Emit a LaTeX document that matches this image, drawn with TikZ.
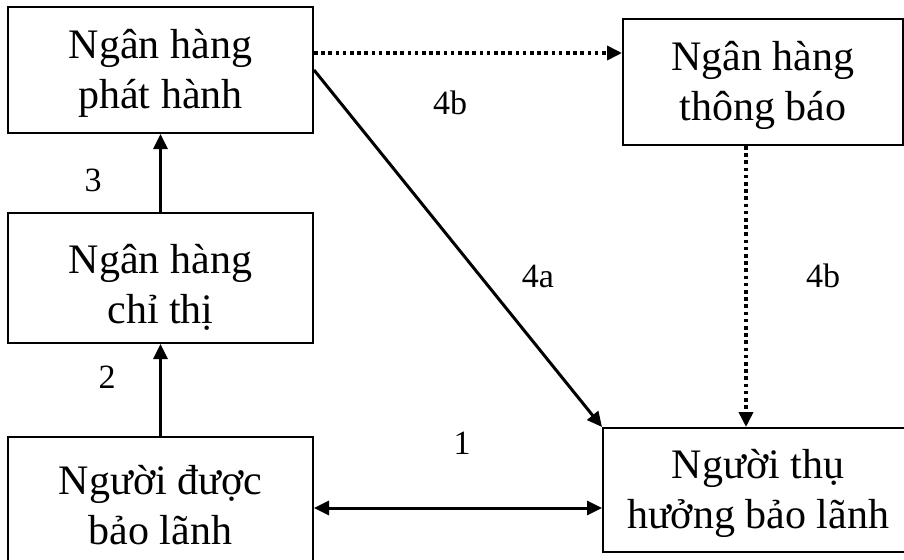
\documentclass[tikz,border=0pt]{standalone}
\usepackage{fontspec}
\setmainfont{Liberation Serif}
\usepackage{graphicx}
\usetikzlibrary{arrows.meta}
% two centred lines, lowered by #1 without changing the box size
\newcommand{\boxlines}[2]{\raisebox{-#1}[\height][\depth]{\begin{tabular}{@{}c@{}}#2\end{tabular}}}
\begin{document}
\begin{tikzpicture}[x=1pt,y=-1pt,
  box/.style={draw, line width=2pt, rectangle, inner sep=0pt,
    font=\fontsize{42}{50}\selectfont},
  tag/.style={anchor=base, inner sep=0pt, font=\fontsize{34}{40}\selectfont},
  tip/.style={-{Triangle[length=15pt,width=14pt]}},
  flow/.style={tip, line width=3pt},
  notice/.style={tip, line width=3.6pt, dash pattern=on 3.6pt off 3.6pt}]
\useasboundingbox (0,0) rectangle (904,559);

% parties and banks
\node[box, minimum width=305pt, minimum height=126pt] (A) at (160.5,70)
  {\boxlines{4pt}{Ngân hàng\\phát hành}};
\node[box, minimum width=280pt, minimum height=126pt] (B) at (763,82)
  {\boxlines{4pt}{Ngân hàng\\thông báo}};
\node[box, minimum width=305pt, minimum height=130pt] (C) at (160.5,278)
  {\boxlines{10pt}{Ngân hàng\\chỉ thị}};
\node[box, minimum width=305pt, minimum height=130pt] (D) at (160.5,502)
  {\boxlines{7pt}{Người được\\bảo lãnh}};
\node[box, minimum width=310pt, minimum height=124pt] (E) at (758,490)
  {\boxlines{3pt}{Người thụ\\hưởng bảo lãnh}};

% guide points for the straight runs
\coordinate (topline) at (0,53);
\coordinate (notecol) at (746,0);
\coordinate (baseline1) at (0,508);

% connectors
\draw[notice] (A.east |- topline) -- (B.west |- topline);
\draw[notice] (B.south -| notecol) -- (E.north -| notecol);
\draw[flow] (A.east) -- (E.north west);
\draw[flow] (C.north) -- (A.south);
\draw[flow] (D.north) -- (C.south);
\draw[flow, {Triangle[length=15pt,width=14pt]}-{Triangle[length=15pt,width=14pt]}]
  (D.east |- baseline1) -- (E.west |- baseline1);

% step numbers
\node[tag] (n1) at (462,454) {1};
\node[tag] (n2) at (107,388) {2};
\node[tag] (n3) at (93,191) {3};
\node[tag] (n4b) at (450,114) {4b};
\node[tag] (n4a) at (538,287) {4a};
\node[tag] (n4c) at (823,287) {4b};
\end{tikzpicture}
\end{document}
